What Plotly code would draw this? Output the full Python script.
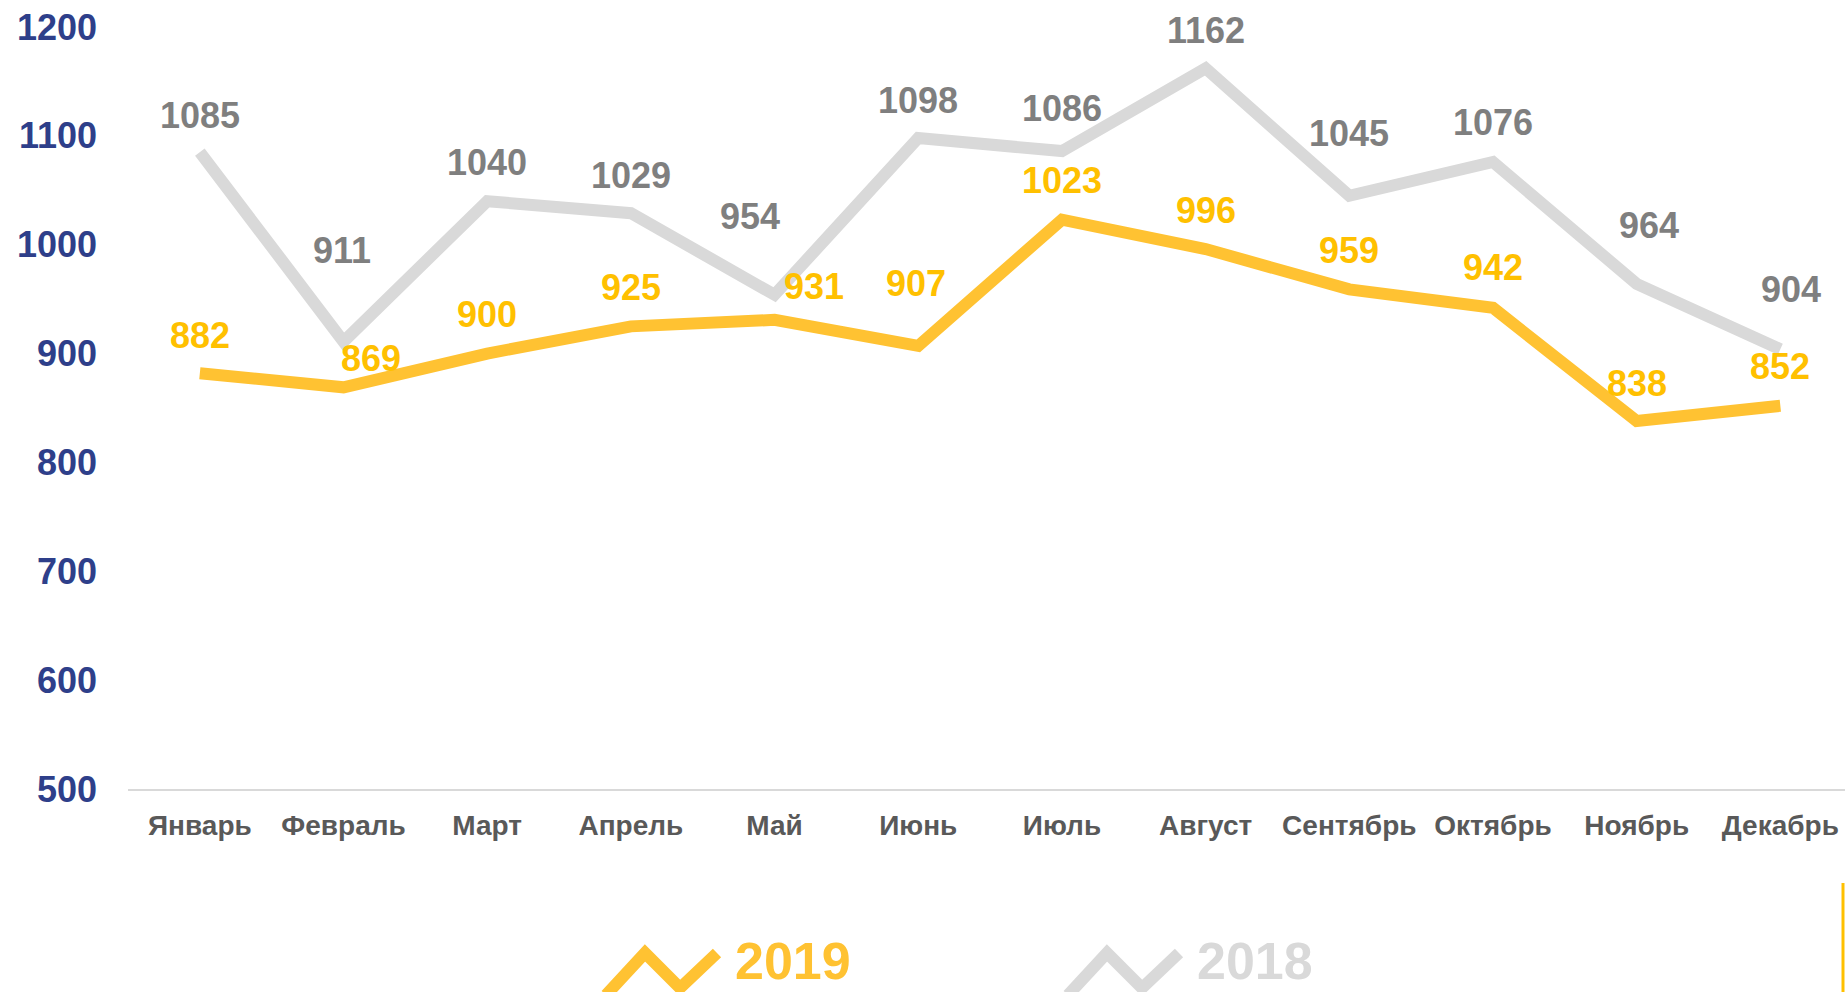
import plotly.graph_objects as go

months = ["Январь", "Февраль", "Март", "Апрель", "Май", "Июнь",
          "Июль", "Август", "Сентябрь", "Октябрь", "Ноябрь", "Декабрь"]
values_2019 = [882, 869, 900, 925, 931, 907, 1023, 996, 959, 942, 838, 852]
values_2018 = [1085, 911, 1040, 1029, 954, 1098, 1086, 1162, 1045, 1076, 964, 904]
y_ticks = [500, 600, 700, 800, 900, 1000, 1100, 1200]
series_names = ["2019", "2018"]

# label offsets (pixels) — layout only
dy_2019 = [38, 29, 39, 39, 33, 62, 39, 39, 39, 40, 38, 39]
dx_2019 = [0, 27, 0, 0, 39, -2, 0, 0, 0, 0, 0, 0]
dy_2018 = [37, 91, 39, 38, 78, 38, 43, 38, 62, 39, 58, 60]
dx_2018 = [0, -2, 0, 0, -25, 0, 0, 0, 0, 0, 12, 11]

W, H = 1845, 992
L, T, B = 128, 27, 203
YEL_LINE = "#FFC232"
YEL_TXT = "#FFC000"
GRY_LINE = "#D9D9D9"
GRY_TXT = "#7F7F7F"
FONT = "Liberation Sans, Arial, sans-serif"

plot_w = W - L
plot_h = H - T - B


def px(x):
    return (x - L) / plot_w


def py(y):
    return (H - B - y) / plot_h


fig = go.Figure()
fig.add_trace(go.Scatter(x=months, y=values_2018, mode="lines", name=series_names[1],
                         line=dict(color=GRY_LINE, width=12), showlegend=False,
                         cliponaxis=False))
fig.add_trace(go.Scatter(x=months, y=values_2019, mode="lines", name=series_names[0],
                         line=dict(color=YEL_LINE, width=12), showlegend=False,
                         cliponaxis=False))

annotations = []
for m, v, dx, dy in zip(months, values_2018, dx_2018, dy_2018):
    annotations.append(dict(x=m, y=v, xref="x", yref="y", text=str(v), showarrow=False,
                            xshift=dx, yshift=dy,
                            font=dict(family=FONT, size=36, color=GRY_TXT, weight="bold")))
for m, v, dx, dy in zip(months, values_2019, dx_2019, dy_2019):
    annotations.append(dict(x=m, y=v, xref="x", yref="y", text=str(v), showarrow=False,
                            xshift=dx, yshift=dy,
                            font=dict(family=FONT, size=36, color=YEL_TXT, weight="bold")))

# legend text
annotations.append(dict(x=px(793), y=py(961), xref="paper", yref="paper", text=series_names[0],
                        showarrow=False, xanchor="center", yanchor="middle",
                        font=dict(family=FONT, size=52, color=YEL_LINE, weight="bold")))
annotations.append(dict(x=px(1255), y=py(961), xref="paper", yref="paper", text=series_names[1],
                        showarrow=False, xanchor="center", yanchor="middle",
                        font=dict(family=FONT, size=52, color=GRY_LINE, weight="bold")))


def zig(x0):
    pts = [(x0, 995), (x0 + 39, 953), (x0 + 74, 988), (x0 + 111, 953)]
    return "M " + " L ".join(f"{px(a):.5f},{py(b):.5f}" for a, b in pts)


shapes = [
    dict(type="path", xref="paper", yref="paper", path=zig(606),
         line=dict(color=YEL_LINE, width=12)),
    dict(type="path", xref="paper", yref="paper", path=zig(1068),
         line=dict(color=GRY_LINE, width=12)),
    dict(type="line", xref="paper", yref="paper", x0=px(1843), x1=px(1843),
         y0=py(883), y1=py(992), line=dict(color=YEL_TXT, width=3)),
]

fig.update_layout(
    width=W, height=H,
    margin=dict(l=L, r=0, t=T, b=B, pad=0),
    paper_bgcolor="white", plot_bgcolor="white",
    showlegend=False,
    annotations=annotations,
    shapes=shapes,
    xaxis=dict(range=[-0.5, 11.45], showgrid=False, zeroline=False,
               showline=True, linecolor=GRY_LINE, linewidth=2,
               ticks="", ticklabelstandoff=10,
               tickfont=dict(family=FONT, size=28, color="#595959", weight="bold")),
    yaxis=dict(range=[500, 1200], tickvals=y_ticks, showgrid=False, zeroline=False,
               showline=False, ticks="", ticklabelstandoff=30,
               tickfont=dict(family=FONT, size=36, color="#2E3F8A", weight="bold")),
)

fig.write_html("out.html", config={"displayModeBar": False},
               post_script="document.body.style.margin='0';document.body.style.overflow='hidden';")
